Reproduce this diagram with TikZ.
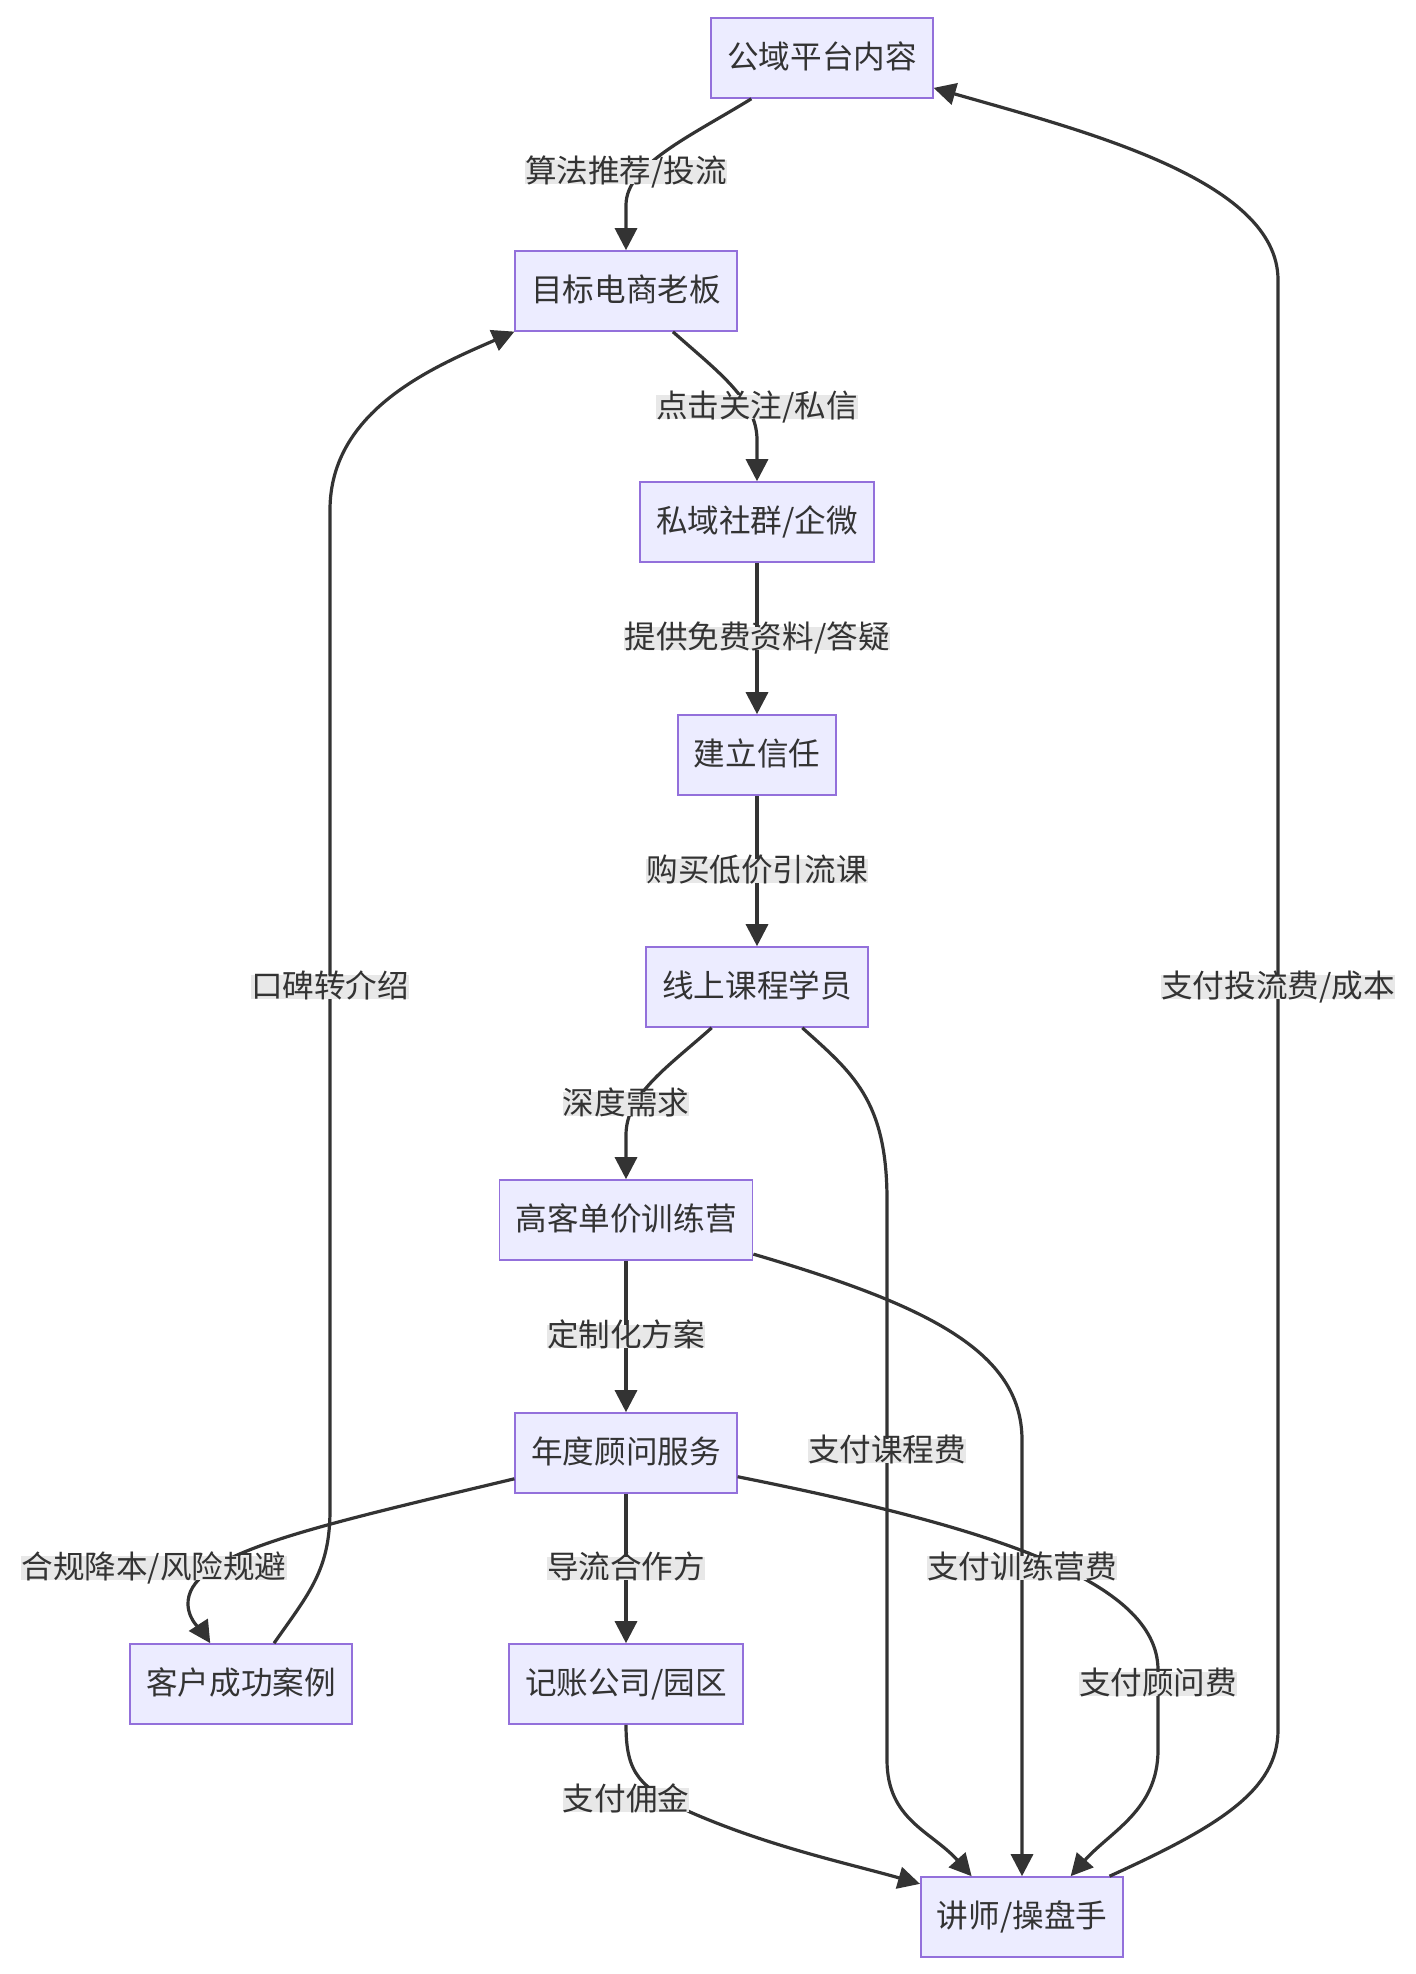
\documentclass[tikz,border=0pt]{standalone}
\usepackage{fontspec}
\setmainfont{Noto Sans CJK SC}
\usetikzlibrary{arrows.meta}
\definecolor{boxfill}{HTML}{ECECFF}
\definecolor{boxline}{HTML}{9370DB}
\definecolor{edgeline}{HTML}{333333}
\definecolor{lblfill}{HTML}{E8E8E8}
\begin{document}
\begin{tikzpicture}[x=0.5pt, y=-0.5pt,
      font=\fontsize{15.8}{19}\selectfont,
      box/.style={rectangle, draw=boxline, line width=0.8pt, fill=boxfill, text=edgeline, minimum height=40pt, inner xsep=8pt, text height=1.02em, text depth=0em},
      lbl/.style={fill=lblfill, text=edgeline, inner xsep=0pt, inner ysep=0.8pt, text height=1.02em, text depth=0em},
      arrow/.style={-{Triangle[length=11pt,width=11pt]}, line width=1.6pt, draw=edgeline}
  ]
  \useasboundingbox (0,0) rectangle (1416,1974);

  % Nodes
  \node[box] (a) at (822,58) {公域平台内容};
  \node[box] (b) at (626,291) {目标电商老板};
  \node[box] (c) at (757,522) {私域社群/企微};
  \node[box] (d) at (757,755) {建立信任};
  \node[box] (e) at (757,987) {线上课程学员};
  \node[box] (f) at (626,1220) {高客单价训练营};
  \node[box] (g) at (626,1453) {年度顾问服务};
  \node[box] (h) at (241,1684) {客户成功案例};
  \node[box] (i) at (626,1684) {记账公司/园区};
  \node[box] (j) at (1022,1917) {讲师/操盘手};

  % Arrows
  \draw[arrow] (a.210) .. controls +(-60,37) and +(0,-40) .. (626,205) -- (b);
  \draw[arrow] (b.319) .. controls +(45,40) and +(0,-40) .. (757,440) -- (c);
  \draw[arrow] (c) -- node[lbl] (l3) {提供免费资料/答疑} (d);
  \draw[arrow] (d) -- node[lbl] (l4) {购买低价引流课} (e);
  \draw[arrow] (e.222) .. controls +(-45,40) and +(0,-40) .. (626,1135) -- (f);
  \draw[arrow] (f) -- node[lbl] (l6) {定制化方案} (g);
  \draw[arrow] (g) -- node[lbl] (l7) {导流合作方} (i);
  \draw[arrow] (g.193) .. controls (300,1530) and (186,1555) .. (188,1605) .. controls (189,1622) and (203,1632) .. (h.127);
  \draw[arrow] (h.51) .. controls +(35,-50) and +(0,60) .. (330,1510) -- (330,510) .. controls +(0,-100) and +(-80,35) .. (b.200);
  \draw[arrow] (e.318) .. controls +(50,45) and +(0,-100) .. (887,1200) -- (887,1760) .. controls +(0,60) and +(-40,-45) .. (j.141);
  \draw[arrow] (f.345) .. controls +(170,50) and +(0,-90) .. (1022,1440) -- (j);
  \draw[arrow] (g.348) .. controls +(250,50) and +(0,-90) .. (1158,1670) -- (1158,1750) .. controls +(0,60) and +(40,-45) .. (j.40);
  \draw[arrow] (i.south) .. controls +(0,50) and +(-50,-25) .. (690,1812) .. controls +(80,35) and +(-70,-20) .. (j.162);
  \draw[arrow] (j.25) .. controls +(110,-50) and +(0,60) .. (1278,1730) -- (1278,280) .. controls +(0,-100) and +(150,43) .. (a.345);

  % Labels
  \node[lbl] (l1) at (626,172) {算法推荐/投流};
  \node[lbl] (l2) at (757,407) {点击关注/私信};
  \node[lbl] (l5) at (626,1104) {深度需求};
  \node[lbl] (l8) at (154,1568) {合规降本/风险规避};
  \node[lbl] (l9) at (330,987) {口碑转介绍};
  \node[lbl] (l10) at (887,1451) {支付课程费};
  \node[lbl] (l11) at (1022,1568) {支付训练营费};
  \node[lbl] (l12) at (1158,1684) {支付顾问费};
  \node[lbl] (l13) at (626,1800) {支付佣金};
  \node[lbl] (l14) at (1278,987) {支付投流费/成本};

\end{tikzpicture}
\end{document}
